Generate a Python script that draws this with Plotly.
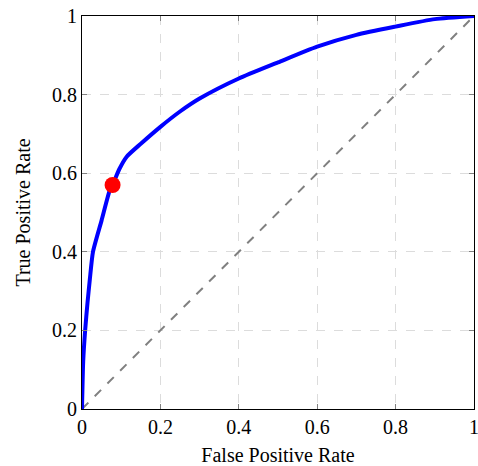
import plotly.graph_objects as go

fpr = [0, 0.003, 0.008, 0.014, 0.02, 0.028, 0.05, 0.071, 0.078, 0.095, 0.114, 0.15, 0.2, 0.25,
       0.3, 0.4, 0.5, 0.6, 0.7, 0.8, 0.9, 1.0]
tpr = [0, 0.12, 0.2, 0.27, 0.33, 0.40, 0.48, 0.557, 0.57, 0.61, 0.642, 0.675, 0.718, 0.757,
       0.79, 0.841, 0.882, 0.922, 0.952, 0.973, 0.992, 1.0]
chance_x = [0, 1]
chance_y = [0, 1]
point_x = [0.078]
point_y = [0.57]
tick_vals = [0, 0.2, 0.4, 0.6, 0.8, 1]
tick_text = ["0", "0.2", "0.4", "0.6", "0.8", "1"]

FONT = "Liberation Serif"

fig = go.Figure()
fig.add_trace(go.Scatter(x=chance_x, y=chance_y, mode="lines", cliponaxis=False,
                         line=dict(color="#808080", width=2, dash="dash"), showlegend=False))
fig.add_trace(go.Scatter(x=fpr, y=tpr, mode="lines", line=dict(color="#0000ff", width=4, shape="spline", smoothing=0.6),
                         showlegend=False))
fig.add_trace(go.Scatter(x=point_x, y=point_y, mode="markers",
                         marker=dict(color="#ff0000", size=16), showlegend=False))

axis_common = dict(
    range=[0, 1], tickvals=tick_vals, ticktext=tick_text, automargin=False,
    showline=True, linecolor="black", linewidth=1, mirror="allticks",
    ticks="inside", ticklen=5, tickcolor="#808080", tickwidth=1,
    showgrid=True, gridcolor="#dcdcdc", griddash="dash", gridwidth=1,
    zeroline=False, tickfont=dict(family=FONT, size=20, color="black"),
    ticklabeloverflow="allow",
)

fig.update_layout(
    width=478, height=466,
    margin=dict(l=82, r=4, t=16, b=57),
    paper_bgcolor="white", plot_bgcolor="white",
    font=dict(family=FONT, size=20, color="black"),
    xaxis=dict(**axis_common, title=dict(text="False Positive Rate", font=dict(family=FONT, size=20), standoff=12)),
    yaxis=dict(**axis_common, title=dict(text="True Positive Rate", font=dict(family=FONT, size=20), standoff=16)),
)

fig.write_html("out.html", post_script="document.body.style.margin='0';",
               config={"displayModeBar": False})
